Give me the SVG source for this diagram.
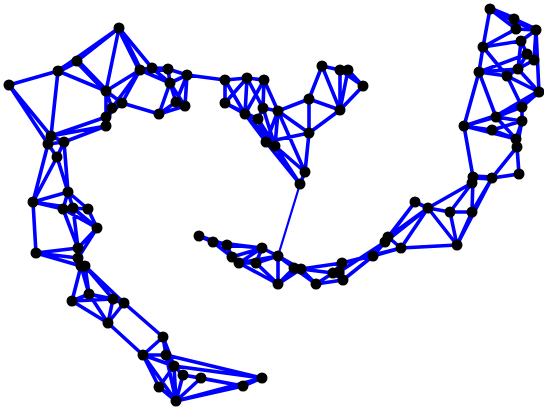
<svg xmlns="http://www.w3.org/2000/svg" width="544" height="411" viewBox="0 0 544 411">
<style>
.e{fill:none;stroke:#0000ff;stroke-width:3.6;stroke-linecap:round}
.t{fill:none;stroke:#0000ff;stroke-width:5.5;stroke-linecap:round}
.thin{fill:none;stroke:#0000ff;stroke-width:2.2;stroke-linecap:round}
.n circle{fill:#000}
</style>
<rect width="544" height="411" fill="#fff"/>
<g id="connectors">
<path id="edgesA" class="e" d="M9 85L58 71 M9 85L51 136 M9 85L48 144 M58 71L77 61 M58 71L119 28 M77 61L119 28 M58 71L106 91 M77 61L106 91 M58 71L51 136 M119 28L106 91 M119 28L140 70 M119 28L152 68 M106 91L140 70 M140 70L122 103 M140 70L112 108 M106 91L122 103 M106 91L112 108 M106 91L106 117 M112 108L106 117 M122 103L106 117 M106 117L106 126 M112 108L106 126 M122 103L159 114 M106 126L51 136 M106 117L51 136 M106 126L64 142 M140 70L152 68 M152 68L168 69 M140 70L168 69 M168 69L187 75 M187 75L170 83 M152 68L170 83 M168 69L170 83 M170 83L176 102 M170 83L159 114 M187 75L176 102 M187 75L185 106 M176 102L185 106 M159 114L185 106 M159 114L176 102 M170 83L185 106 M187 75L225 80 M140 70L170 83"/>
<path id="edgesAthick" class="t" d="M58 71L77 61 M77 61L106 91 M119 28L140 70 M140 70L168 69"/>
<path id="edgesB" class="e" d="M225 80L247 78 M247 78L264 80 M225 80L225 103 M225 80L245 114 M247 78L225 103 M247 78L245 114 M247 78L263 108 M264 80L245 114 M264 80L263 108 M264 80L278 111 M225 103L245 114 M225 103L258 119 M245 114L258 119 M245 114L266 142 M263 108L258 119 M263 108L278 111 M278 111L266 142 M278 111L275 146 M245 114L275 146 M263 108L275 146 M258 119L275 146 M266 142L275 146 M258 119L266 142 M278 111L309 99 M278 111L309 133 M278 111L305 172 M266 142L309 133 M275 146L305 172 M275 146L300 184 M266 142L300 184 M309 99L309 133 M309 99L322 66 M309 99L340 110 M309 133L340 110 M322 66L340 110 M322 66L340 70 M340 70L348 70 M348 70L363 86 M340 70L363 86 M340 70L340 110 M348 70L340 110 M363 86L340 110 M309 133L305 172 M305 172L300 184"/>
<path id="edgeBD" class="thin" d="M300 184L278 256"/>
<path id="edgesC" class="e" d="M490 9L514 19 M490 9L536 30 M490 9L483 47 M490 9L516 29 M514 19L536 30 M516 29L536 30 M514 19L516 29 M483 47L516 29 M483 47L521 41 M483 47L479 72 M483 47L507 76 M521 41L536 30 M521 41L527 54 M536 30L534 60 M536 30L539 92 M527 54L534 60 M479 72L518 69 M479 72L527 54 M479 72L507 76 M507 76L518 69 M518 69L534 60 M518 69L527 54 M521 41L518 69 M479 72L496 117 M479 72L464 126 M507 76L539 92 M518 69L539 92 M507 76L522 107 M539 92L522 107 M539 92L496 117 M522 107L496 117 M522 107L522 121 M496 117L464 126 M522 107L464 126 M464 126L492 130 M464 126L516 139 M496 117L516 139 M492 130L522 121 M496 117L522 121 M492 130L516 139 M522 121L516 139 M522 121L517 147 M516 139L517 147 M464 126L473 177 M517 147L519 174 M517 147L492 178 M473 177L492 178 M492 178L519 174 M473 177L472 183"/>
<path id="edgesCthick" class="t" d="M490 9L514 19 M490 9L536 30 M539 92L496 117 M473 177L492 178"/>
<path id="edgesG" class="e" d="M473 177L472 212 M492 178L472 212 M492 178L457 245 M472 183L428 208 M472 183L450 212 M415 202L428 208 M415 202L388 237 M415 202L385 242 M428 208L450 212 M450 212L472 212 M428 208L457 245 M450 212L457 245 M472 212L457 245 M428 208L385 242 M428 208L401 248 M428 208L388 237 M388 237L401 248 M401 248L457 245 M385 242L373 256 M401 248L373 256 M373 256L342 263 M401 248L342 263 M385 242L339 272 M373 256L343 280"/>
<path id="edgesD" class="e" d="M199 236L213 242 M199 236L227 245 M213 242L227 245 M213 242L232 257 M227 245L262 248 M227 245L232 257 M262 248L278 256 M262 248L232 257 M262 248L239 263 M232 257L239 263 M239 263L256 263 M256 263L278 256 M239 263L278 256 M262 248L256 263 M278 256L278 284 M256 263L278 284 M239 263L278 284 M278 256L294 268 M278 256L301 269 M278 284L294 268 M278 284L301 269 M294 268L301 269 M301 269L316 284 M294 268L316 284 M316 284L333 273 M316 284L343 280 M301 269L333 273 M301 269L342 263 M342 263L333 273 M342 263L339 272 M333 273L343 280 M339 272L343 280 M342 263L343 280 M213 242L262 248"/>
<path id="edgesE" class="e" d="M51 136L48 144 M51 136L64 142 M48 144L64 142 M48 144L57 157 M64 142L57 157 M48 144L33 202 M57 157L33 202 M57 157L68 192 M64 142L68 192 M68 192L33 202 M68 192L63 209 M68 192L73 208 M68 192L88 209 M33 202L63 209 M33 202L73 208 M33 202L36 253 M63 209L73 208 M73 208L88 209 M63 209L97 228 M73 208L97 228 M88 209L97 228 M63 209L78 248 M73 208L78 248 M97 228L78 248 M97 228L78 258 M78 248L36 253 M36 253L78 258 M36 253L81 266 M78 248L78 258 M78 258L81 266 M81 266L85 266 M81 266L89 294 M85 266L89 294 M81 266L72 301 M85 266L113 299 M85 266L124 303 M89 294L72 301 M89 294L113 299 M72 301L113 299 M89 294L124 303 M78 258L85 266"/>
<path id="edgesF" class="e" d="M72 301L108 323 M89 294L108 323 M113 299L108 323 M124 303L108 323 M124 303L163 337 M108 323L143 355 M163 337L143 355 M163 337L166 355 M163 337L174 366 M143 355L166 355 M143 355L174 366 M143 355L159 387 M143 355L176 401 M166 355L174 366 M166 355L176 401 M174 366L183 375 M183 375L201 378 M174 366L159 387 M159 387L176 401 M183 375L176 401 M201 378L176 401 M176 401L243 386 M176 401L262 378 M243 386L262 378 M174 366L262 378 M183 375L243 386 M166 355L262 378 M201 378L243 386 M174 366L176 401 M113 299L124 303"/>
</g>
<g id="nodes">
<g id="a1" class="n"><circle cx="9" cy="85" r="5.5"/></g>
<g id="a2" class="n"><circle cx="58" cy="71" r="5.5"/></g>
<g id="a3" class="n"><circle cx="77" cy="61" r="5.5"/></g>
<g id="a4" class="n"><circle cx="119" cy="28" r="5.5"/></g>
<g id="a5" class="n"><circle cx="106" cy="91" r="5.5"/></g>
<g id="a6" class="n"><circle cx="140" cy="70" r="5.5"/></g>
<g id="a7" class="n"><circle cx="152" cy="68" r="5.5"/></g>
<g id="a8" class="n"><circle cx="168" cy="69" r="5.5"/></g>
<g id="a9" class="n"><circle cx="187" cy="75" r="5.5"/></g>
<g id="a10" class="n"><circle cx="170" cy="83" r="5.5"/></g>
<g id="a11" class="n"><circle cx="122" cy="103" r="5.5"/></g>
<g id="a12" class="n"><circle cx="112" cy="108" r="5.5"/></g>
<g id="a13" class="n"><circle cx="106" cy="117" r="5.5"/></g>
<g id="a14" class="n"><circle cx="106" cy="126" r="5.5"/></g>
<g id="a15" class="n"><circle cx="159" cy="114" r="5.5"/></g>
<g id="a16" class="n"><circle cx="176" cy="102" r="5.5"/></g>
<g id="a17" class="n"><circle cx="185" cy="106" r="5.5"/></g>
<g id="b1" class="n"><circle cx="225" cy="80" r="5.5"/></g>
<g id="b2" class="n"><circle cx="247" cy="78" r="5.5"/></g>
<g id="b3" class="n"><circle cx="264" cy="80" r="5.5"/></g>
<g id="b4" class="n"><circle cx="225" cy="103" r="5.5"/></g>
<g id="b5" class="n"><circle cx="245" cy="114" r="5.5"/></g>
<g id="b6" class="n"><circle cx="263" cy="108" r="5.5"/></g>
<g id="b7" class="n"><circle cx="258" cy="119" r="5.5"/></g>
<g id="b8" class="n"><circle cx="278" cy="111" r="5.5"/></g>
<g id="b9" class="n"><circle cx="266" cy="142" r="5.5"/></g>
<g id="b10" class="n"><circle cx="275" cy="146" r="5.5"/></g>
<g id="b11" class="n"><circle cx="309" cy="99" r="5.5"/></g>
<g id="b12" class="n"><circle cx="309" cy="133" r="5.5"/></g>
<g id="b13" class="n"><circle cx="322" cy="66" r="5.5"/></g>
<g id="b14" class="n"><circle cx="340" cy="70" r="5.5"/></g>
<g id="b15" class="n"><circle cx="348" cy="70" r="5.5"/></g>
<g id="b16" class="n"><circle cx="363" cy="86" r="5.5"/></g>
<g id="b17" class="n"><circle cx="340" cy="110" r="5.5"/></g>
<g id="b18" class="n"><circle cx="305" cy="172" r="5.5"/></g>
<g id="b19" class="n"><circle cx="300" cy="184" r="5.5"/></g>
<g id="c1" class="n"><circle cx="490" cy="9" r="5.5"/></g>
<g id="c2" class="n"><circle cx="514" cy="19" r="5.5"/></g>
<g id="c3" class="n"><circle cx="516" cy="29" r="5.5"/></g>
<g id="c4" class="n"><circle cx="536" cy="30" r="5.5"/></g>
<g id="c5" class="n"><circle cx="521" cy="41" r="5.5"/></g>
<g id="c6" class="n"><circle cx="483" cy="47" r="5.5"/></g>
<g id="c7" class="n"><circle cx="527" cy="54" r="5.5"/></g>
<g id="c8" class="n"><circle cx="534" cy="60" r="5.5"/></g>
<g id="c9" class="n"><circle cx="518" cy="69" r="5.5"/></g>
<g id="c10" class="n"><circle cx="479" cy="72" r="5.5"/></g>
<g id="c11" class="n"><circle cx="507" cy="76" r="5.5"/></g>
<g id="c12" class="n"><circle cx="539" cy="92" r="5.5"/></g>
<g id="c13" class="n"><circle cx="522" cy="107" r="5.5"/></g>
<g id="c14" class="n"><circle cx="496" cy="117" r="5.5"/></g>
<g id="c15" class="n"><circle cx="522" cy="121" r="5.5"/></g>
<g id="c16" class="n"><circle cx="464" cy="126" r="5.5"/></g>
<g id="c17" class="n"><circle cx="492" cy="130" r="5.5"/></g>
<g id="c18" class="n"><circle cx="516" cy="139" r="5.5"/></g>
<g id="c19" class="n"><circle cx="517" cy="147" r="5.5"/></g>
<g id="c20" class="n"><circle cx="519" cy="174" r="5.5"/></g>
<g id="c21" class="n"><circle cx="492" cy="178" r="5.5"/></g>
<g id="c22" class="n"><circle cx="473" cy="177" r="5.5"/></g>
<g id="c23" class="n"><circle cx="472" cy="183" r="5.5"/></g>
<g id="g1" class="n"><circle cx="415" cy="202" r="5.5"/></g>
<g id="g2" class="n"><circle cx="428" cy="208" r="5.5"/></g>
<g id="g3" class="n"><circle cx="450" cy="212" r="5.5"/></g>
<g id="g4" class="n"><circle cx="472" cy="212" r="5.5"/></g>
<g id="g5" class="n"><circle cx="457" cy="245" r="5.5"/></g>
<g id="g6" class="n"><circle cx="388" cy="237" r="5.5"/></g>
<g id="g7" class="n"><circle cx="385" cy="242" r="5.5"/></g>
<g id="g8" class="n"><circle cx="401" cy="248" r="5.5"/></g>
<g id="g9" class="n"><circle cx="373" cy="256" r="5.5"/></g>
<g id="d1" class="n"><circle cx="199" cy="236" r="5.5"/></g>
<g id="d2" class="n"><circle cx="213" cy="242" r="5.5"/></g>
<g id="d3" class="n"><circle cx="227" cy="245" r="5.5"/></g>
<g id="d4" class="n"><circle cx="262" cy="248" r="5.5"/></g>
<g id="d5" class="n"><circle cx="232" cy="257" r="5.5"/></g>
<g id="d6" class="n"><circle cx="239" cy="263" r="5.5"/></g>
<g id="d7" class="n"><circle cx="256" cy="263" r="5.5"/></g>
<g id="d8" class="n"><circle cx="278" cy="256" r="5.5"/></g>
<g id="d9" class="n"><circle cx="278" cy="284" r="5.5"/></g>
<g id="d10" class="n"><circle cx="294" cy="268" r="5.5"/></g>
<g id="d11" class="n"><circle cx="301" cy="269" r="5.5"/></g>
<g id="d12" class="n"><circle cx="316" cy="284" r="5.5"/></g>
<g id="d13" class="n"><circle cx="342" cy="263" r="5.5"/></g>
<g id="d14" class="n"><circle cx="333" cy="273" r="5.5"/></g>
<g id="d15" class="n"><circle cx="339" cy="272" r="5.5"/></g>
<g id="d16" class="n"><circle cx="343" cy="280" r="5.5"/></g>
<g id="e0" class="n"><circle cx="51" cy="136" r="5.5"/></g>
<g id="e1" class="n"><circle cx="48" cy="144" r="5.5"/></g>
<g id="e2" class="n"><circle cx="64" cy="142" r="5.5"/></g>
<g id="e3" class="n"><circle cx="57" cy="157" r="5.5"/></g>
<g id="e4" class="n"><circle cx="68" cy="192" r="5.5"/></g>
<g id="e5" class="n"><circle cx="33" cy="202" r="5.5"/></g>
<g id="e6" class="n"><circle cx="63" cy="209" r="5.5"/></g>
<g id="e7" class="n"><circle cx="73" cy="208" r="5.5"/></g>
<g id="e8" class="n"><circle cx="88" cy="209" r="5.5"/></g>
<g id="e9" class="n"><circle cx="97" cy="228" r="5.5"/></g>
<g id="e10" class="n"><circle cx="78" cy="248" r="5.5"/></g>
<g id="e11" class="n"><circle cx="36" cy="253" r="5.5"/></g>
<g id="e12" class="n"><circle cx="78" cy="258" r="5.5"/></g>
<g id="e13" class="n"><circle cx="81" cy="266" r="5.5"/></g>
<g id="e14" class="n"><circle cx="85" cy="266" r="5.5"/></g>
<g id="e15" class="n"><circle cx="89" cy="294" r="5.5"/></g>
<g id="e16" class="n"><circle cx="72" cy="301" r="5.5"/></g>
<g id="e17" class="n"><circle cx="113" cy="299" r="5.5"/></g>
<g id="e18" class="n"><circle cx="124" cy="303" r="5.5"/></g>
<g id="f1" class="n"><circle cx="108" cy="323" r="5.5"/></g>
<g id="f2" class="n"><circle cx="163" cy="337" r="5.5"/></g>
<g id="f3" class="n"><circle cx="143" cy="355" r="5.5"/></g>
<g id="f4" class="n"><circle cx="166" cy="355" r="5.5"/></g>
<g id="f5" class="n"><circle cx="174" cy="366" r="5.5"/></g>
<g id="f6" class="n"><circle cx="183" cy="375" r="5.5"/></g>
<g id="f7" class="n"><circle cx="201" cy="378" r="5.5"/></g>
<g id="f8" class="n"><circle cx="159" cy="387" r="5.5"/></g>
<g id="f9" class="n"><circle cx="176" cy="401" r="5.5"/></g>
<g id="f10" class="n"><circle cx="243" cy="386" r="5.5"/></g>
<g id="f11" class="n"><circle cx="262" cy="378" r="5.5"/></g>
</g>
</svg>
